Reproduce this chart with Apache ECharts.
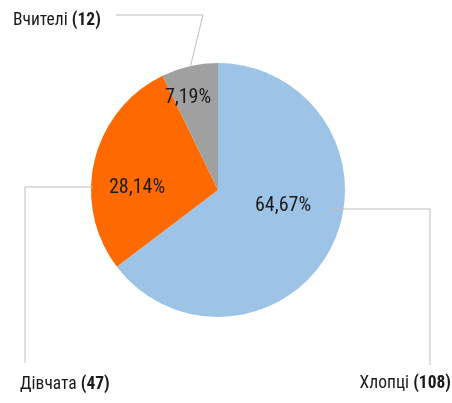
<!DOCTYPE html>
<html>
<head>
<meta charset="utf-8">
<script src="https://cdn.jsdelivr.net/npm/echarts@6/dist/echarts.min.js"></script>
<style>
  html, body { margin: 0; padding: 0; background: #fff; }
  #chart { width: 452px; height: 403px; }
</style>
</head>
<body>
<div id="chart"></div>
<script>
// data
const categories = ['Хлопці', 'Дівчата', 'Вчителі'];
const counts = [108, 47, 12];
const colors = ['#9DC3E6', '#FF6A00', '#A0A0A0'];

// label placement (px): [x, y, align]
const pctPos = [[283, 206], [137, 188], [188, 98]];
const namePos = [[451, 384, 'right'], [20, 385, 'left'], [13, 21, 'left']];
const leaderLines = [
  [[330, 209], [430, 209], [430, 365]],
  [[93, 187], [25, 187], [25, 363]],
  [[116, 15], [203, 15], [190, 68]]
];

// the reference uses a narrow font: look for one that is installed
const ctx = document.createElement('canvas').getContext('2d');
function hasFont(name) {
  return ['monospace', 'serif', 'sans-serif'].some(base => {
    ctx.font = '20px ' + base;
    const w0 = ctx.measureText('Вчителі 64,67% abcXYZ').width;
    ctx.font = "20px '" + name + "', " + base;
    return ctx.measureText('Вчителі 64,67% abcXYZ').width !== w0;
  });
}
const families = ['Liberation Sans Narrow', 'DejaVu Sans Condensed', 'Roboto Condensed',
  'Noto Sans', 'Open Sans', 'Roboto', 'Liberation Sans', 'DejaVu Sans'].filter(hasFont);
const stretches = ['', 'semi-condensed', 'condensed', 'extra-condensed'];
let best = { family: 'sans-serif', stretch: '', w: 1e9 };
families.forEach(f => stretches.forEach(s => {
  ctx.font = (s ? s + ' ' : '') + "20px '" + f + "'";
  const w = ctx.measureText('64,67%').width;
  if (Math.abs(w - 56) < Math.abs(best.w - 56)) best = { family: f, stretch: s, w: w };
}));
const FONT = "'" + best.family + "', sans-serif";
const STRETCH = best.stretch;
const pre = STRETCH ? STRETCH + ' ' : '';
const fontSize = Math.min(21, Math.round(20 * 56 / best.w * 2) / 2);

// outer names: fit "Вчителі (12)" to its width in the reference
ctx.font = pre + '20px ' + FONT;
let nameW = ctx.measureText('Вчителі ').width;
ctx.font = pre + 'bold 20px ' + FONT;
nameW += ctx.measureText('(12)').width;
const nameSize = Math.min(fontSize, Math.round(20 * 89 / nameW * 2) / 2);

const txt = { fontFamily: FONT, fontStyle: STRETCH, color: '#1b1b1b' };

const chart = echarts.init(document.getElementById('chart'));

const option = {
  backgroundColor: '#fff',
  animation: false,
  series: [
    {
      type: 'pie',
      center: [218, 190],
      radius: 127,
      startAngle: 90,
      clockwise: true,
      data: categories.map((name, i) => ({
        name: name,
        value: counts[i],
        itemStyle: { color: colors[i] }
      })),
      label: Object.assign({
        show: true,
        position: 'inside',
        fontSize: fontSize,
        formatter: p => p.percent.toFixed(2).replace('.', ',') + '%'
      }, txt),
      labelLine: { show: false },
      labelLayout: p => ({
        x: pctPos[p.dataIndex][0],
        y: pctPos[p.dataIndex][1],
        align: 'center',
        verticalAlign: 'middle'
      }),
      emphasis: { disabled: true }
    },
    {
      type: 'pie',
      center: [218, 190],
      radius: 127,
      startAngle: 90,
      silent: true,
      data: categories.map((name, i) => ({ name: name, value: counts[i] })),
      itemStyle: { color: 'rgba(0,0,0,0)' },
      label: {
        show: true,
        position: 'inside',
        overflow: 'none',
        formatter: p => '{n|' + p.name + ' }{b|(' + p.value + ')}',
        rich: {
          n: Object.assign({ fontSize: nameSize }, txt),
          b: Object.assign({ fontSize: nameSize, fontWeight: 'bold' }, txt)
        }
      },
      labelLine: { show: false },
      labelLayout: p => ({
        x: namePos[p.dataIndex][0],
        y: namePos[p.dataIndex][1],
        align: namePos[p.dataIndex][2],
        verticalAlign: 'middle'
      })
    }
  ],
  graphic: leaderLines.map(pts => ({
    type: 'polyline',
    z: 100,
    shape: { points: pts },
    style: { stroke: '#BFBFBF', lineWidth: 1, fill: null }
  }))
};

chart.setOption(option);
</script>
</body>
</html>
